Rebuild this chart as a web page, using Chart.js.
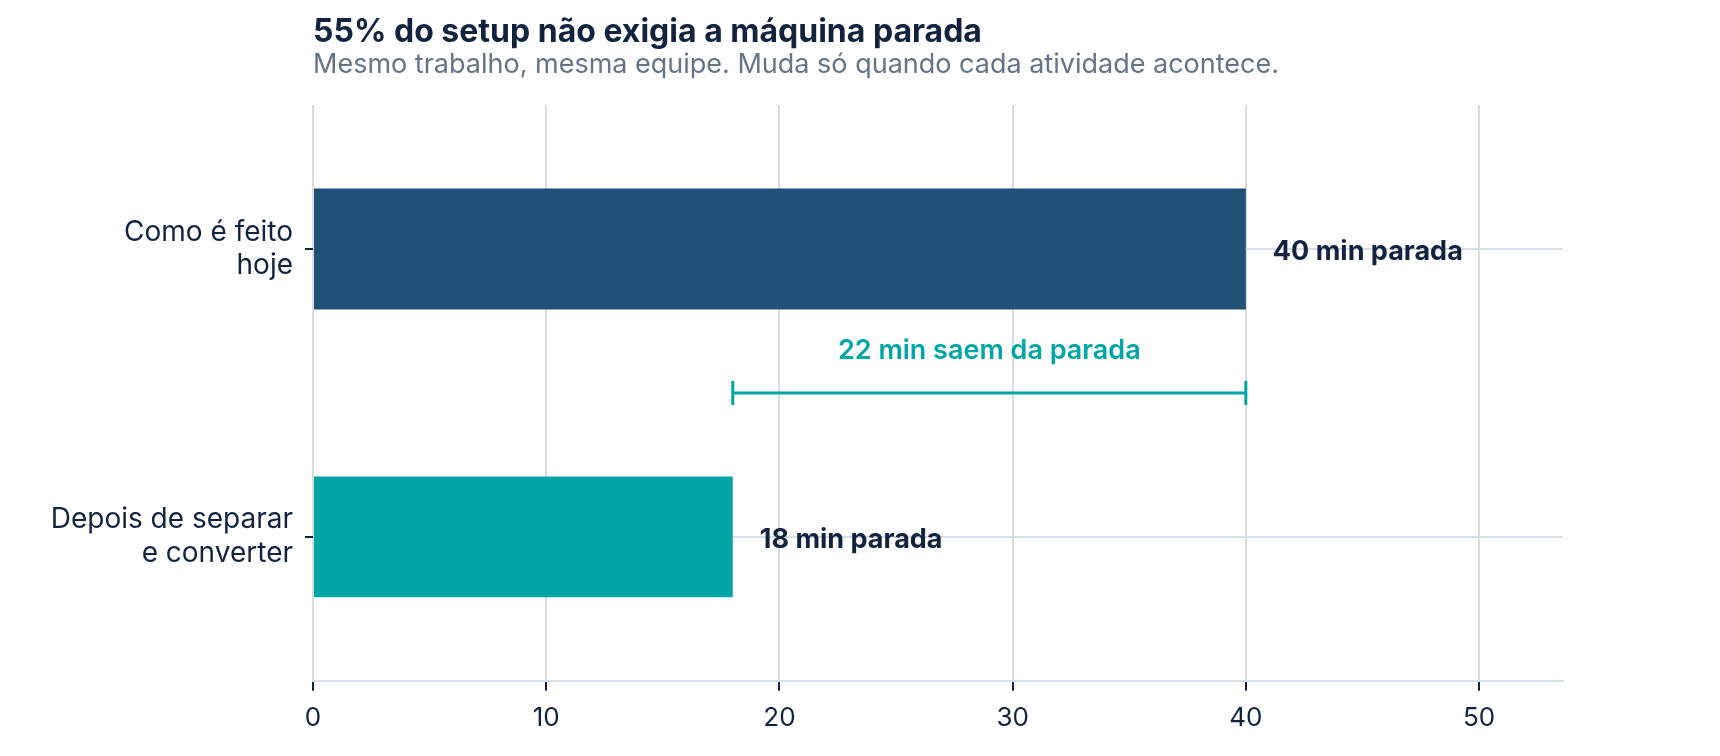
<!DOCTYPE html>
<html>
<head>
<meta charset="utf-8">
<script src="https://cdn.jsdelivr.net/npm/chart.js@4"></script>
<style>
  html, body { margin: 0; padding: 0; background: #fff; }
  #wrap { width: 1720px; height: 756px; }
</style>
</head>
<body>
<div id="wrap"><canvas id="c"></canvas></div>
<script>
const categories = [['Como é feito', 'hoje'], ['Depois de separar', 'e converter']];
const minutes = [40, 18];
const barColors = ['#204f78', '#00a6a6'];
const valueLabels = ['40 min parada', '18 min parada'];
const gapFrom = 18, gapTo = 40;
const gapLabel = '22 min saem da parada';
const titleText = '55% do setup não exigia a máquina parada';
const subtitleText = 'Mesmo trabalho, mesma equipe. Muda só quando cada atividade acontece.';

const FONT = 'Inter, "Noto Sans", sans-serif';
const INK = '#13233f';
const TEAL = '#00a6a6';

// titulos, rotulos e a chave de diferenca
const overlay = {
  id: 'overlay',
  afterDatasetsDraw(chart) {
    const ctx = chart.ctx;
    const x = chart.scales.x, y = chart.scales.y;
    const left = chart.chartArea.left;
    ctx.save();
    ctx.textBaseline = 'alphabetic';
    ctx.textAlign = 'left';
    ctx.fillStyle = INK;
    ctx.font = 'bold 32px ' + FONT;
    ctx.fillText(titleText, left, 42);
    ctx.fillStyle = '#667488';
    ctx.font = '27px ' + FONT;
    ctx.fillText(subtitleText, left, 73);

    ctx.textBaseline = 'middle';
    ctx.fillStyle = INK;
    ctx.font = 'bold 27px ' + FONT;
    minutes.forEach((v, i) => {
      ctx.fillText(valueLabels[i], x.getPixelForValue(v) + 27, y.getPixelForValue(i) + 3);
    });

    const yb = (y.getPixelForValue(0) + y.getPixelForValue(1)) / 2;
    const x1 = x.getPixelForValue(gapFrom), x2 = x.getPixelForValue(gapTo);
    ctx.strokeStyle = TEAL;
    ctx.lineWidth = 3;
    ctx.beginPath();
    ctx.moveTo(x1, yb); ctx.lineTo(x2, yb);
    ctx.moveTo(x1, yb - 12); ctx.lineTo(x1, yb + 12);
    ctx.moveTo(x2, yb - 12); ctx.lineTo(x2, yb + 12);
    ctx.stroke();
    ctx.fillStyle = TEAL;
    ctx.textAlign = 'center';
    ctx.font = '600 27px ' + FONT;
    ctx.fillText(gapLabel, (x1 + x2) / 2, yb - 42);
    ctx.restore();
  }
};

new Chart(document.getElementById('c'), {
  type: 'bar',
  data: {
    labels: categories,
    datasets: [{
      data: minutes,
      backgroundColor: barColors,
      barPercentage: 0.84,
      categoryPercentage: 0.5
    }]
  },
  options: {
    indexAxis: 'y',
    responsive: true,
    maintainAspectRatio: false,
    animation: false,
    layout: { padding: { top: 105, right: 157, bottom: 10, left: 0 } },
    plugins: { legend: { display: false }, tooltip: { enabled: false } },
    scales: {
      x: {
        min: 0, max: 53.6,
        afterBuildTicks(s) { s.ticks = [0, 10, 20, 30, 40, 50].map(v => ({ value: v })); },
        grid: { color: '#d6dde5', lineWidth: 2, tickColor: INK, tickLength: 10 },
        border: { color: '#d6dde5', width: 2 },
        ticks: { color: INK, font: { family: FONT, size: 26 }, padding: 12 }
      },
      y: {
        afterFit(s) { s.width = 313; },
        grid: { offset: false, color: '#d6dde5', lineWidth: 2, tickColor: INK, tickLength: 8 },
        border: { display: false },
        ticks: { color: INK, font: { family: FONT, size: 28 }, padding: 12 }
      }
    }
  },
  plugins: [overlay]
});
</script>
</body>
</html>
